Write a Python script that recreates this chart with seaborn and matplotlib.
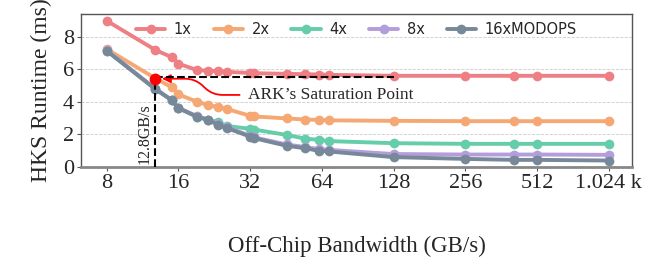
"""HKS runtime vs. off-chip bandwidth, written to out.png."""

import matplotlib

matplotlib.use("Agg")
import matplotlib.pyplot as plt  # noqa: E402
import seaborn as sns  # noqa: E402

# bandwidth points (GB/s)
bandwidth = [8, 12.8, 15, 16, 19.2, 21.3, 23.5, 25.6, 32, 33.3,
             45.6, 54.5, 62, 68.3, 128, 256, 409.6, 512, 1024]

runtime_1x = [9.0, 7.2, 6.75, 6.35, 5.95, 5.92, 5.88, 5.84, 5.78, 5.76,
              5.72, 5.70, 5.68, 5.66, 5.6, 5.6, 5.6, 5.6, 5.6]
runtime_2x = [7.25, 5.45, 4.9, 4.45, 4.0, 3.8, 3.67, 3.55, 3.13, 3.09,
              2.97, 2.9, 2.88, 2.85, 2.82, 2.8, 2.8, 2.8, 2.8]
runtime_4x = [7.15, 4.8, 4.1, 3.63, 3.05, 2.9, 2.75, 2.5, 2.33, 2.28,
              1.95, 1.72, 1.65, 1.57, 1.44, 1.4, 1.4, 1.4, 1.4]
runtime_8x = [7.18, 4.8, 4.1, 3.62, 3.1, 2.9, 2.62, 2.42, 1.9, 1.8,
              1.36, 1.2, 1.08, 1.03, 0.77, 0.74, 0.74, 0.74, 0.72]
runtime_16x = [7.15, 4.78, 4.1, 3.6, 3.08, 2.88, 2.57, 2.37, 1.85, 1.75,
               1.28, 1.13, 0.97, 0.93, 0.58, 0.47, 0.41, 0.41, 0.37]

series_labels = ["1x", "2x", "4x", "8x", "16xMODOPS"]
series_colors = ["#EE7F85", "#F5A873", "#66CDAA", "#B39DDB", "#778899"]

x_ticks = [8, 16, 32, 64, 128, 256, 512, 1024]
x_tick_labels = ["8", "16", "32", "64", "128", "256", "512", "1.024 k"]
y_ticks = [0, 2, 4, 6, 8]

sat_bw = 12.8
sat_runtime = 5.42
sat_line_y = 5.52

sns.set_theme(style="white")
serif = ["Liberation Serif", "DejaVu Serif"]

fig = plt.figure(figsize=(6.7, 2.63), dpi=100)
ax = fig.add_axes([0.121, 0.365, 0.822, 0.582])

all_runtimes = [runtime_1x, runtime_2x, runtime_4x, runtime_8x, runtime_16x]
for values, color, label in zip(all_runtimes, series_colors, series_labels):
    sns.lineplot(x=bandwidth, y=values, ax=ax, color=color, label=label,
                 marker="o", markersize=7, markeredgewidth=0, linewidth=2.8)

# saturation guide lines
ax.plot([sat_bw, 128], [sat_line_y, sat_line_y], ls="--", color="black", lw=1.5, zorder=5)
ax.plot([sat_bw, sat_bw], [0, sat_runtime], ls="--", color="black", lw=1.5, zorder=5)
ax.scatter([sat_bw], [sat_runtime], color="red", s=55, zorder=6)
ax.text(11.6, 2.0, "12.8GB/s", rotation=90, ha="center", va="center",
        fontsize=11.5, family=serif)
ax.annotate("ARK’s Saturation Point", xy=(13.3, sat_runtime), xytext=(31.5, 4.42),
            fontsize=12.5, family=serif, va="center", ha="left",
            arrowprops=dict(arrowstyle="-|>", color="red", lw=1.3,
                            shrinkA=4, shrinkB=2, relpos=(0, 0.5),
                            connectionstyle="arc,angleA=180,angleB=0,armA=36,armB=36,rad=10"))

ax.set_xscale("log", base=2)
ax.set_xlim(6.25, 1280)
ax.set_ylim(-0.03, 9.42)
ax.set_xticks(x_ticks)
ax.set_xticklabels(x_tick_labels)
ax.set_yticks(y_ticks)
ax.minorticks_off()
ax.tick_params(axis="both", labelsize=16, length=3, width=0.8, color="#555555",
               bottom=True, left=True, pad=2)
for lbl in ax.get_xticklabels() + ax.get_yticklabels():
    lbl.set_family(serif)

ax.yaxis.grid(True, ls="--", color="#CCCCCC", lw=0.6)
for side in ["top", "right", "bottom", "left"]:
    ax.spines[side].set_color("#555555")
    ax.spines[side].set_linewidth(1.0)
ax.spines["bottom"].set_color("#888888")
ax.spines["bottom"].set_linewidth(2.0)

ax.set_xlabel("Off-Chip Bandwidth (GB/s)", fontsize=16.5, family=serif, labelpad=31)
ax.set_ylabel("HKS Runtime (ms)", fontsize=17, family=serif, labelpad=8)

ax.legend(loc="upper center", bbox_to_anchor=(0.5, 1.03), ncol=5, frameon=False,
          fontsize=10.5, handlelength=2.0, columnspacing=1.5, handletextpad=0.6)

fig.savefig("out.png", dpi=100)
plt.close(fig)
